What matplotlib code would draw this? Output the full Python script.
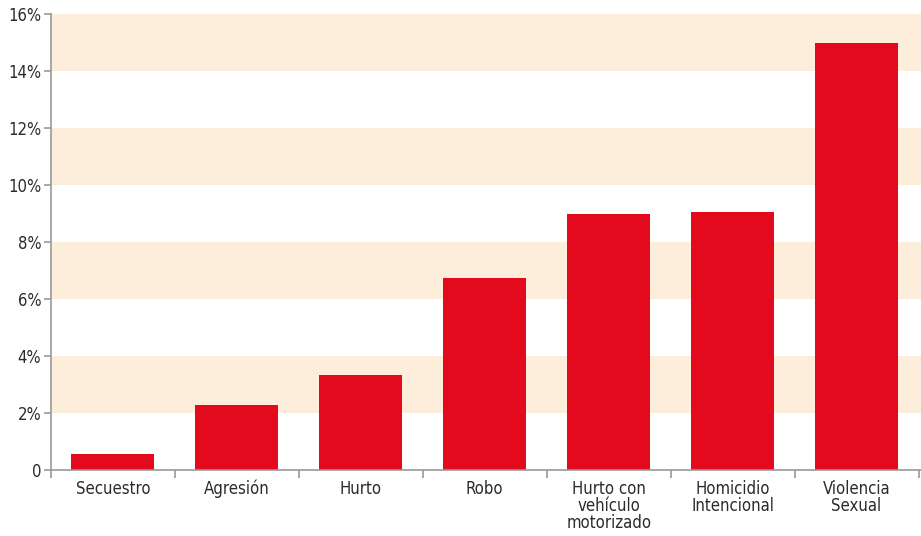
import matplotlib
matplotlib.use("Agg")
import matplotlib.pyplot as plt
from matplotlib.ticker import FixedLocator

categories = ["Secuestro", "Agresión", "Hurto", "Robo",
              "Hurto con\nvehículo\nmotorizado", "Homicidio\nIntencional", "Violencia\nSexual"]
values = [0.56, 2.28, 3.33, 6.74, 8.98, 9.05, 15.0]
yticks = [0, 2, 4, 6, 8, 10, 12, 14, 16]
ylabels = ["0", "2%", "4%", "6%", "8%", "10%", "12%", "14%", "16%"]

plt.rcParams["font.family"] = ["DejaVu Sans"]
plt.rcParams["font.stretch"] = "condensed"

fig = plt.figure(figsize=(9.21, 5.36), dpi=100)
ax = fig.add_axes([51/921, 66/536, 870/921, 456/536])

for lo in [2, 6, 10, 14]:
    ax.axhspan(lo, lo + 2, color="#FDEEDB", lw=0, zorder=0)

x = list(range(len(categories)))
ax.bar(x, values, width=0.67, color="#E30A1E", zorder=2)

ax.set_xlim(-0.5, len(categories) - 0.5 + 0.02)
ax.set_ylim(0, 16)
ax.set_yticks(yticks)
ax.set_yticklabels(ylabels)
ax.set_xticks(x)
ax.set_xticklabels(categories, linespacing=0.95)
ax.xaxis.set_minor_locator(FixedLocator([i - 0.5 for i in range(len(categories) + 1)]))
ax.tick_params(axis="x", which="major", length=0, pad=7, labelsize=12, colors="#2b2b2b")
ax.tick_params(axis="x", which="minor", length=6, width=1.2, color="#999999")
ax.tick_params(axis="y", length=5, width=1.2, color="#999999", labelsize=12, labelcolor="#2b2b2b", pad=2)
for s in ["top", "right"]:
    ax.spines[s].set_visible(False)
for s in ["left", "bottom"]:
    ax.spines[s].set_color("#999999")
    ax.spines[s].set_linewidth(1.2)

fig.savefig("out.png", dpi=100)
